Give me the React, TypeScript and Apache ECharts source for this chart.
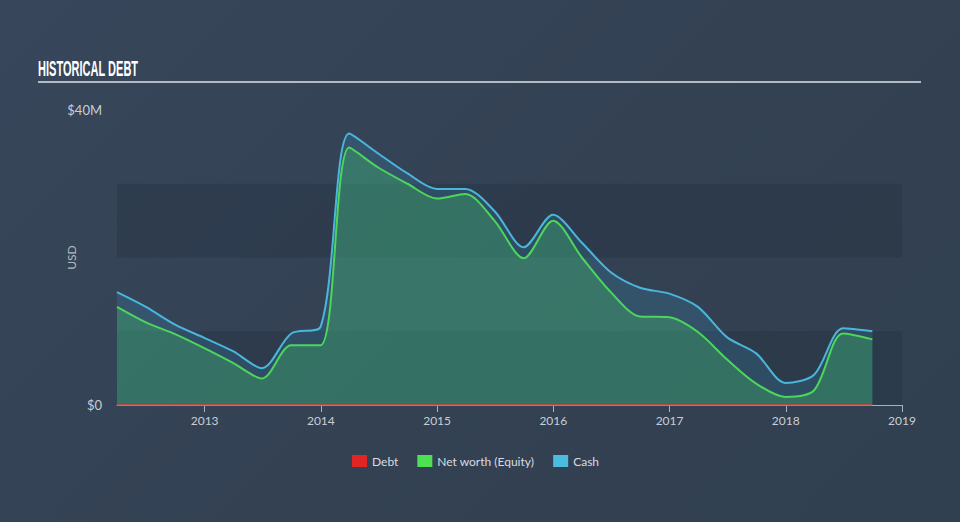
import React, { useEffect, useRef } from 'react';
import * as echarts from 'echarts';

const dates = [
  '2012-03-31', '2012-06-30', '2012-09-30', '2012-12-31',
  '2013-03-31', '2013-06-30', '2013-09-30', '2013-12-31',
  '2014-03-31', '2014-06-30', '2014-09-30', '2014-12-31',
  '2015-03-31', '2015-06-30', '2015-09-30', '2015-12-31',
  '2016-03-31', '2016-06-30', '2016-09-30', '2016-12-31',
  '2017-03-31', '2017-06-30', '2017-09-30', '2017-12-31',
  '2018-03-31', '2018-06-30', '2018-09-30',
];

const debtM = [0, 0, 0, 0, 0, 0, 0, 0, 0, 0, 0, 0, 0, 0, 0, 0, 0, 0, 0, 0, 0, 0, 0, 0, 0, 0, 0];
const equityM = [13.3, 11.2, 9.6, 7.7, 5.7, 3.6, 8.1, 8.1, 34.9, 32.2, 30.0, 28.0, 28.6, 25.0, 19.9, 25.0, 20.0, 15.3, 12.0, 11.9, 9.9, 6.2, 2.9, 1.1, 2.0, 9.7, 8.9];
const cashM = [15.3, 13.3, 10.9, 9.1, 7.3, 5.0, 9.7, 10.6, 36.8, 34.1, 31.4, 29.3, 29.3, 26.3, 21.4, 25.8, 22.0, 18.0, 15.9, 15.1, 13.3, 9.2, 7.0, 3.0, 4.1, 10.4, 10.0];

const yearTicks = [2013, 2014, 2015, 2016, 2017, 2018, 2019];
const yTickLabels: Record<number, string> = { 0: '$0', 40: '$40M' };

function toYear(d: string): number {
  const [y, m, day] = d.split('-').map(Number);
  const start = Date.UTC(y, 0, 1);
  const end = Date.UTC(y + 1, 0, 1);
  return y + (Date.UTC(y, m - 1, day) - start) / (end - start);
}

const FONT = 'Lato, "Open Sans", sans-serif';

export default function App() {
  const ref = useRef<HTMLDivElement>(null);

  useEffect(() => {
    if (!ref.current) return;
    const chart = echarts.init(ref.current, null, { renderer: 'svg' });
    const xs = dates.map(toYear);
    const pair = (vals: number[]) => xs.map((x, i) => [x, vals[i]]);

    chart.setOption({
      animation: false,
      backgroundColor: 'transparent',
      grid: { left: 117, right: 58, top: 110, bottom: 117, containLabel: false },
      graphic: [
        {
          type: 'text',
          left: 38,
          top: 57,
          scaleX: 0.69,
          scaleY: 1.4,
          style: {
            text: 'HISTORICAL DEBT',
            fill: '#ffffff',
            font: 'bold 16px "Liberation Sans Narrow", "Liberation Sans", sans-serif',
          },
        },
        {
          type: 'line',
          shape: { x1: 38, y1: 82, x2: 921, y2: 82 },
          style: { stroke: '#b4bac2', lineWidth: 2 },
        },
      ],
      legend: {
        left: 347,
        top: 450,
        icon: 'rect',
        itemWidth: 15,
        itemHeight: 12,
        itemGap: 19,
        textStyle: { color: '#d8dce1', fontSize: 12, fontFamily: FONT },
        data: ['Debt', 'Net worth (Equity)', 'Cash'],
      },
      xAxis: {
        type: 'value',
        min: toYear(dates[0]),
        max: 2019,
        axisLine: { show: true, lineStyle: { color: '#a9b1ba', width: 1 } },
        axisTick: { show: true, length: 7, lineStyle: { color: '#a9b1ba' }, customValues: yearTicks },
        axisLabel: {
          color: '#c9ced4',
          fontSize: 12,
          fontFamily: FONT,
          margin: 9,
          customValues: yearTicks,
          formatter: (v: number) => String(Math.round(v)),
        },
        splitLine: { show: false },
      },
      yAxis: {
        type: 'value',
        min: 0,
        max: 40,
        interval: 10,
        name: 'USD',
        nameLocation: 'middle',
        nameGap: 40,
        nameMoveOverlap: false,
        nameTextStyle: { color: '#b3bac2', fontSize: 12, fontFamily: FONT },
        axisLine: { show: false },
        axisTick: { show: false },
        axisLabel: {
          color: '#c9ced4',
          fontSize: 13,
          fontFamily: FONT,
          margin: 15,
          formatter: (v: number) => yTickLabels[v] ?? '',
        },
        splitLine: { show: false },
        splitArea: {
          show: true,
          areaStyle: { color: ['rgba(25,35,48,0.22)', 'rgba(0,0,0,0)'] },
        },
      },
      series: [
        {
          name: 'Cash',
          type: 'line',
          data: pair(cashM),
          smooth: 0.3,
          showSymbol: false,
          symbol: 'none',
          lineStyle: { color: '#4ab6db', width: 2 },
          itemStyle: { color: '#4bbbe0' },
          areaStyle: { color: 'rgba(60,170,225,0.24)', origin: 'start' },
          z: 2,
        },
        {
          name: 'Net worth (Equity)',
          type: 'line',
          data: pair(equityM),
          smooth: 0.3,
          showSymbol: false,
          symbol: 'none',
          lineStyle: { color: '#4cd65a', width: 2 },
          itemStyle: { color: '#4de052' },
          areaStyle: { color: 'rgba(70,225,100,0.36)', origin: 'start' },
          z: 3,
        },
        {
          name: 'Debt',
          type: 'line',
          data: pair(debtM),
          showSymbol: false,
          symbol: 'none',
          lineStyle: { color: '#d9423a', width: 1.5 },
          itemStyle: { color: '#e02525' },
          z: 4,
        },
      ],
    });

    return () => chart.dispose();
  }, []);

  return (
    <div
      style={{
        position: 'fixed',
        left: 0,
        top: 0,
        width: 960,
        height: 522,
        background: 'linear-gradient(135deg, #37465a 0%, #334153 55%, #314050 100%)',
      }}
    >
      <div ref={ref} style={{ width: 960, height: 522 }} />
    </div>
  );
}
